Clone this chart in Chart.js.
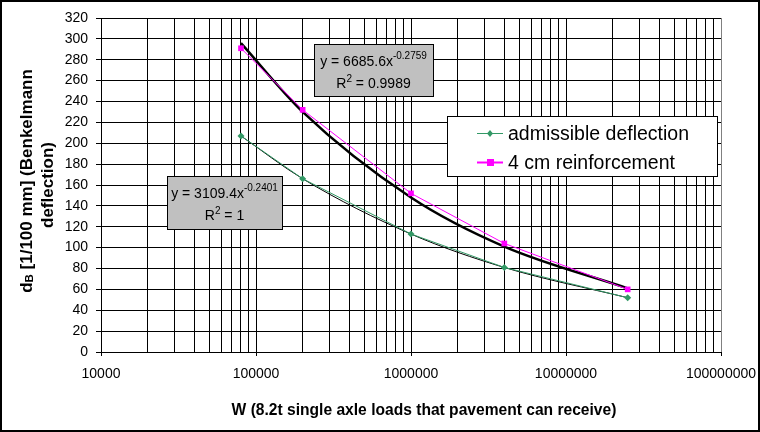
<!DOCTYPE html>
<html>
<head>
<meta charset="utf-8">
<script src="https://cdn.jsdelivr.net/npm/chart.js@4/dist/chart.umd.min.js"></script>
<style>
  html, body { margin: 0; padding: 0; background: #fff; }
  #wrap { width: 760px; height: 432px; }
</style>
</head>
<body>
<div id="wrap"><canvas id="chart" width="760" height="432"></canvas></div>
<script>
// values
const loads = [80000, 200000, 1000000, 4000000, 25000000];
const admissible = [207, 166, 113, 81, 52];
const reinforcement = [291, 232, 152, 104, 60];
// power trend lines, as read at the same loads
const reinforcementTrend = [296, 230, 148, 101, 61];
const admissibleTrend = [207, 166, 113, 81, 52];

const seriesNames = ['admissible deflection', '4 cm reinforcement'];
const yTicks = [0, 20, 40, 60, 80, 100, 120, 140, 160, 180, 200, 220, 240, 260, 280, 300, 320];
const xDecades = [10000, 100000, 1000000, 10000000, 100000000];

const GREEN = '#339966';
const PINK = '#ff00ff';
const FONT = '"Liberation Sans", Arial, sans-serif';

const pts = (xs, ys) => xs.map((x, i) => ({ x: x, y: ys[i] }));
const isDecade = v => Math.abs(Math.log10(v) - Math.round(Math.log10(v))) < 1e-9;

// rich text helper: segments [{t, size, bold, dy}]
function richText(ctx, segs, cx, y) {
  let w = 0;
  segs.forEach(s => {
    ctx.font = (s.bold ? 'bold ' : '') + s.size + 'px ' + FONT;
    s.w = ctx.measureText(s.t).width;
    w += s.w;
  });
  let x = cx - w / 2;
  segs.forEach(s => {
    ctx.font = (s.bold ? 'bold ' : '') + s.size + 'px ' + FONT;
    ctx.fillText(s.t, x, y + (s.dy || 0));
    x += s.w;
  });
}

const extras = {
  id: 'extras',
  beforeDraw(chart) {
    const ctx = chart.ctx;
    ctx.save();
    ctx.fillStyle = '#fff';
    ctx.fillRect(0, 0, chart.width, chart.height);
    ctx.restore();
  },
  afterDraw(chart) {
    const ctx = chart.ctx;
    const a = chart.chartArea;
    ctx.save();
    // plot frame right side in grey
    ctx.strokeStyle = '#808080';
    ctx.lineWidth = 1;
    ctx.beginPath();
    ctx.moveTo(a.right + 0.5, a.top);
    ctx.lineTo(a.right + 0.5, a.bottom);
    ctx.stroke();

    ctx.fillStyle = '#000';
    ctx.textAlign = 'left';
    ctx.textBaseline = 'alphabetic';

    // trend equation boxes
    const boxes = [
      { x: 167, y: 176, w: 115, h: 53, coef: '3109.4', exp: '-0.2401', r2: '1' },
      { x: 314, y: 44, w: 119, h: 52, coef: '6685.6', exp: '-0.2759', r2: '0.9989' }
    ];
    boxes.forEach(b => {
      ctx.fillStyle = '#c0c0c0';
      ctx.fillRect(b.x, b.y, b.w, b.h);
      ctx.strokeStyle = '#000';
      ctx.lineWidth = 1;
      ctx.strokeRect(b.x + 0.5, b.y + 0.5, b.w, b.h);
      ctx.fillStyle = '#000';
      const cx = b.x + b.w / 2;
      richText(ctx, [
        { t: 'y = ' + b.coef + 'x', size: 14 },
        { t: b.exp, size: 10, dy: -7 }
      ], cx, b.y + 22);
      richText(ctx, [
        { t: 'R', size: 14 },
        { t: '2', size: 10, dy: -6 },
        { t: ' = ' + b.r2, size: 14 }
      ], cx, b.y + 44);
    });

    // legend
    const lg = { x: 447, y: 116, w: 270, h: 60 };
    ctx.fillStyle = '#fff';
    ctx.fillRect(lg.x, lg.y, lg.w, lg.h);
    ctx.strokeStyle = '#000';
    ctx.strokeRect(lg.x + 0.5, lg.y + 0.5, lg.w, lg.h);
    const rows = [
      { name: seriesNames[0], color: GREEN, y: 133, marker: 'diamond' },
      { name: seriesNames[1], color: PINK, y: 162, marker: 'square' }
    ];
    rows.forEach(r => {
      ctx.strokeStyle = r.color;
      ctx.lineWidth = r.marker === 'square' ? 2 : 1;
      ctx.beginPath();
      ctx.moveTo(477, r.y + 0.5);
      ctx.lineTo(503, r.y + 0.5);
      ctx.stroke();
      ctx.fillStyle = r.color;
      if (r.marker === 'square') {
        ctx.fillRect(487, r.y - 3, 7, 7);
      } else {
        ctx.beginPath();
        ctx.moveTo(490, r.y - 3);
        ctx.lineTo(493, r.y + 0.5);
        ctx.lineTo(490, r.y + 4);
        ctx.lineTo(487, r.y + 0.5);
        ctx.closePath();
        ctx.fill();
      }
      ctx.fillStyle = '#000';
      ctx.font = '19.5px ' + FONT;
      ctx.fillText(r.name, 508, r.y + 7);
    });

    // axis titles
    ctx.fillStyle = '#000';
    richText(ctx, [{ t: 'W (8.2t single axle loads that pavement can receive)', size: 15.6, bold: true }], 424, 415);

    ctx.save();
    ctx.translate(26, 181);
    ctx.rotate(-Math.PI / 2);
    richText(ctx, [
      { t: 'd', size: 17, bold: true },
      { t: 'B', size: 11.5, bold: true, dy: 1 },
      { t: ' [1/100 mm] (Benkelmann', size: 17, bold: true }
    ], 0, 6);
    ctx.restore();
    ctx.save();
    ctx.translate(26, 185);
    ctx.rotate(-Math.PI / 2);
    richText(ctx, [{ t: 'deflection)', size: 17, bold: true }], 0, 27);
    ctx.restore();

    // outer border
    ctx.strokeStyle = '#000';
    ctx.lineWidth = 2;
    ctx.strokeRect(1, 1, chart.width - 2, chart.height - 2);
    ctx.restore();
  }
};

new Chart(document.getElementById('chart'), {
  type: 'line',
  data: {
    datasets: [
      {
        label: seriesNames[0],
        data: pts(loads, admissible),
        borderColor: GREEN,
        backgroundColor: GREEN,
        borderWidth: 1,
        pointStyle: 'rectRot',
        pointRadius: 3.5,
        pointBorderWidth: 0,
        order: 1
      },
      {
        label: seriesNames[1],
        data: pts(loads, reinforcement),
        borderColor: PINK,
        backgroundColor: PINK,
        borderWidth: 1,
        pointStyle: 'rect',
        pointRadius: 4,
        pointBorderWidth: 0,
        order: 1
      },
      {
        label: 'trend 4 cm',
        data: pts(loads, reinforcementTrend),
        borderColor: '#000',
        borderWidth: 2.5,
        pointRadius: 0,
        cubicInterpolationMode: 'monotone',
        order: 2
      },
      {
        label: 'trend admissible',
        data: pts(loads, admissibleTrend),
        borderColor: '#000',
        borderWidth: 1,
        pointRadius: 0,
        cubicInterpolationMode: 'monotone',
        order: 2
      }
    ]
  },
  options: {
    responsive: false,
    animation: false,
    layout: { padding: { left: 0, right: 39, top: 18, bottom: 0 } },
    plugins: {
      legend: { display: false },
      tooltip: { enabled: false }
    },
    scales: {
      x: {
        type: 'logarithmic',
        min: xDecades[0],
        max: xDecades[xDecades.length - 1],
        afterBuildTicks: scale => {
          const t = [];
          for (let d = 0; d < xDecades.length; d++) {
            const base = xDecades[d];
            const top = d === xDecades.length - 1 ? 1 : 9;
            for (let m = 1; m <= top; m++) t.push({ value: base * m });
          }
          scale.ticks = t;
        },
        afterFit: scale => {
          scale.height = 80;
          scale.paddingLeft = 0;
          scale.paddingRight = 0;
        },
        grid: {
          color: '#000',
          lineWidth: 1,
          tickLength: 4,
          tickColor: c => (c.tick && isDecade(c.tick.value)) ? '#000' : 'rgba(0,0,0,0)'
        },
        border: { color: '#000' },
        ticks: {
          autoSkip: false,
          maxRotation: 0,
          padding: 10,
          color: '#000',
          font: { family: FONT, size: 14 },
          callback: v => isDecade(v) ? String(Math.round(v)) : ''
        }
      },
      y: {
        min: yTicks[0],
        max: yTicks[yTicks.length - 1],
        afterBuildTicks: scale => { scale.ticks = yTicks.map(v => ({ value: v })); },
        afterFit: scale => {
          scale.width = 101;
          scale.paddingTop = 0;
          scale.paddingBottom = 0;
        },
        grid: { color: '#000', lineWidth: 1, tickLength: 5, tickColor: '#000' },
        border: { color: '#000' },
        ticks: {
          padding: 8,
          color: '#000',
          font: { family: FONT, size: 14 }
        }
      }
    }
  },
  plugins: [extras]
});
</script>
</body>
</html>
